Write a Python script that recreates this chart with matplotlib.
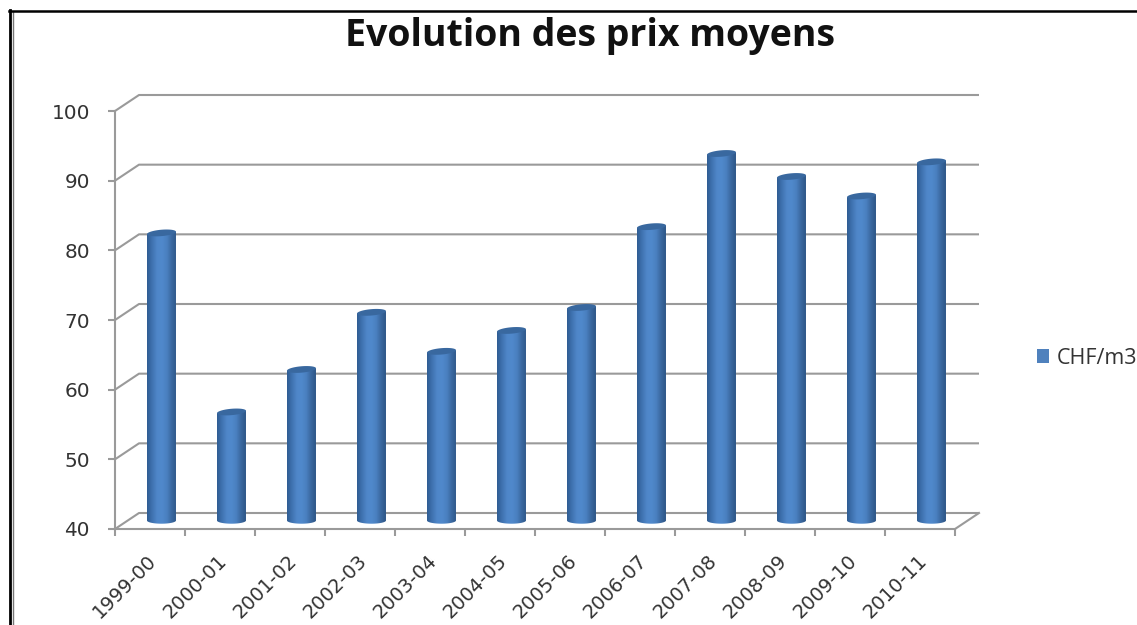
import numpy as np
import matplotlib
matplotlib.use("Agg")
import matplotlib.pyplot as plt
from matplotlib.colors import LinearSegmentedColormap
from matplotlib.patches import PathPatch, Patch
from matplotlib.path import Path
from matplotlib.transforms import ScaledTranslation

categories = ["1999-00", "2000-01", "2001-02", "2002-03", "2003-04", "2004-05",
              "2005-06", "2006-07", "2007-08", "2008-09", "2009-10", "2010-11"]
values = [82.5, 56.8, 62.9, 71.1, 65.5, 68.5, 71.8, 83.4, 93.9, 90.6, 87.8, 92.7]
y_ticks = [40, 50, 60, 70, 80, 90, 100]
series_name = "CHF/m3"
title = "Evolution des prix moyens"

W, H = 1137, 625
fig = plt.figure(figsize=(W / 100, H / 100), dpi=100, facecolor="white")
L, R, T, B = 115, 955, 111, 529
ax = fig.add_axes([L / W, 1 - B / H, (R - L) / W, (B - T) / H])
ax.patch.set_alpha(0)

GRID = "#9a9a9a"
TXT = "#333333"
LW = 1.5
ax.set_xlim(0, 12)
ax.set_ylim(40, 100)

# depth of the pseudo-3D box, in data units
DX = 24 / 70
DY = 16 * 60 / 418

for yv in y_ticks:
    ax.plot([0, DX, 12 + DX], [yv, yv + DY, yv + DY], color=GRID, lw=LW,
            clip_on=False, zorder=1, solid_capstyle="butt")
ax.plot([12, 12 + DX], [40, 40 + DY], color=GRID, lw=LW, clip_on=False, zorder=1)

for s in ("top", "right"):
    ax.spines[s].set_visible(False)
for s in ("left", "bottom"):
    ax.spines[s].set_color(GRID)
    ax.spines[s].set_linewidth(LW)
    ax.spines[s].set_zorder(1.5)

ax.set_yticks(y_ticks)
ax.set_xticks(np.arange(0, 13))
ax.set_xticklabels([])
ax.set_xticks(np.arange(12) + 0.5, labels=categories, minor=True)
ax.tick_params(axis="y", length=5, width=LW, color=GRID, labelsize=14.4,
               labelcolor=TXT, pad=13)
ax.tick_params(axis="x", which="major", length=5, width=LW, color=GRID)
ax.tick_params(axis="x", which="minor", length=0, labelsize=14,
               labelcolor=TXT, pad=16)
for lab in ax.get_xticklabels(minor=True):
    lab.set_rotation(45)
    lab.set_ha("right")
    lab.set_va("top")
    lab.set_rotation_mode("anchor")
    lab.set_transform(lab.get_transform() + ScaledTranslation(-0.03, 0, fig.dpi_scale_trans))

# cylinders
cmap = LinearSegmentedColormap.from_list(
    "cyl", ["#2f5c92", "#3f72b0", "#4f86c8", "#5089cc", "#4a80c0", "#3a689f", "#2d5687"])
grad = np.linspace(0, 1, 128).reshape(1, -1)
half_w = 14.5 / 70
by = 3.2 * 60 / 418
tilt = 1.2 * 60 / 418
base = 40 + 8.5 * 60 / 418
shift = 0.164
t = np.linspace(0, 2 * np.pi, 61)
t_low = np.linspace(np.pi, 2 * np.pi, 31)

for i, v in enumerate(values):
    cx = i + 0.5 + shift
    # body outline: top edge, then lower arc at the floor
    xs_low = cx + half_w * np.cos(t_low)
    ys_low = base + by * np.sin(t_low)
    verts = [(cx - half_w, v - tilt)] + list(zip(xs_low, ys_low)) + [(cx + half_w, v + tilt)]
    verts.append(verts[0])
    codes = [Path.MOVETO] + [Path.LINETO] * (len(verts) - 2) + [Path.CLOSEPOLY]
    body = PathPatch(Path(verts, codes), facecolor="none", edgecolor="none",
                     transform=ax.transData)
    ax.add_patch(body)
    im = ax.imshow(grad, cmap=cmap, aspect="auto", zorder=3, interpolation="bilinear",
                   extent=[cx - half_w, cx + half_w, 38, 100])
    im.set_clip_path(body)
    # top cap
    xs = cx + half_w * np.cos(t)
    ys = v + by * np.sin(t) + tilt * np.cos(t)
    ax.fill(xs, ys, color="#39689f", lw=0, zorder=4)

ax.set_xlim(0, 12)
ax.set_ylim(40, 100)

fig.text(590 / W, 1 - 36 / H, title, ha="center", va="center", fontsize=27,
         fontweight="bold", family="Open Sans", color="#111111")

leg = fig.legend(handles=[Patch(facecolor="#4f81bd", edgecolor="none", label=series_name)],
                 loc="center left", bbox_to_anchor=(1037 / W, 1 - 358 / H), frameon=False,
                 handlelength=0.58, handleheight=0.58, handletextpad=0.35, borderpad=0,
                 borderaxespad=0, prop={"family": "Open Sans", "size": 15.5})
leg.get_texts()[0].set_color(TXT)

# image frame: double rule on the left, single rule on the top
fig.add_artist(plt.Line2D([10 / W, 10 / W], [0, 1 - 10 / H], color="black", lw=2.0,
                          transform=fig.transFigure))
fig.add_artist(plt.Line2D([13 / W, 13 / W], [0, 1 - 12 / H], color="#777777", lw=1.0,
                          transform=fig.transFigure))
fig.add_artist(plt.Line2D([9 / W, 1], [1 - 11 / H, 1 - 11 / H], color="black", lw=1.8,
                          transform=fig.transFigure))

fig.savefig("out.png", dpi=100)
